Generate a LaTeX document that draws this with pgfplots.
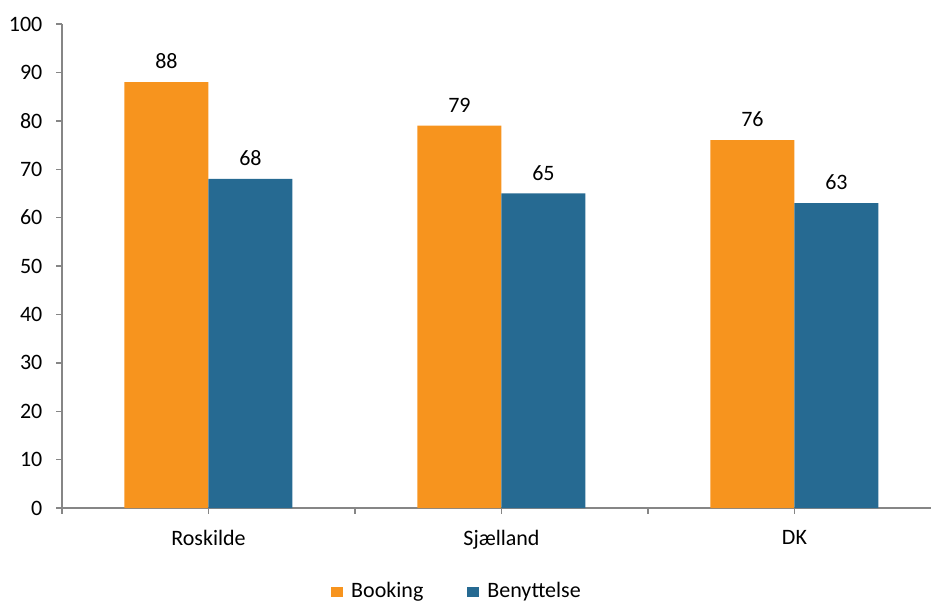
\documentclass[border=0pt]{standalone}
\usepackage{pgfplots}
\pgfplotsset{compat=1.18}
\usepackage{fontspec}
\setmainfont{Carlito}
\definecolor{orng}{RGB}{247,148,30}
\definecolor{blu}{RGB}{38,106,146}
\definecolor{axgray}{RGB}{134,134,134}
\begin{document}
\begin{tikzpicture}
\path[use as bounding box] (0,0) rectangle (465.5pt,300.5pt);
\begin{axis}[
  at={(31pt,46.5pt)}, anchor=south west,
  scale only axis, width=434.5pt, height=242pt,
  ybar=0pt, bar width=42pt,
  xmin=-0.5, xmax=2.466, ymin=0, ymax=100,
  axis x line=bottom, axis y line=left,
  axis line style={draw=axgray, line width=0.7pt, -},
  xtick={-0.5,0.5,1.5}, xticklabels={},
  x tick style={draw=axgray, line width=0.7pt},
  extra x ticks={0,1,2}, extra x tick labels={Roskilde,Sjælland,DK},
  extra x tick style={tick style={draw=none}},
  ytick={0,10,...,100},
  y tick style={draw=axgray, line width=0.7pt},
  major tick length=2.8pt, tick align=outside,
  /pgf/number format/assume math mode=true,
  tick label style={font=\fontsize{11pt}{13pt}\selectfont, black},
  yticklabel style={xshift=-3.5pt},
  xticklabel style={yshift=-5pt},
  nodes near coords,
  every node near coord/.append style={font=\fontsize{11pt}{13pt}\selectfont, black, yshift=3pt},
  legend style={draw=none, at={(0.4557,-0.173)}, anchor=center, legend columns=2,
    font=\fontsize{11pt}{13pt}\selectfont, inner sep=0pt,
    /tikz/every odd column/.append style={column sep=2pt},
    /tikz/every even column/.append style={column sep=20pt}},
  legend image code/.code={\fill[#1] (0pt,-2.5pt) rectangle (6pt,2.5pt);},
]
\addplot[fill=orng, draw=none] coordinates {(0,88) (1,79) (2,76)};
\addplot[fill=blu, draw=none] coordinates {(0,68) (1,65) (2,63)};
\legend{Booking,Benyttelse}
\end{axis}
\end{tikzpicture}
\end{document}
